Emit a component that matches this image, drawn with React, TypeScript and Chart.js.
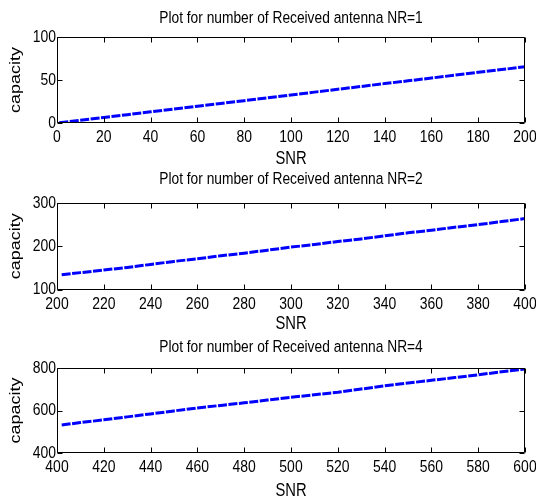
import React, { useEffect, useRef } from "react";
import { Chart, registerables } from "chart.js";

Chart.register(...registerables);

// ---- data ----
const snr1 = [1, 10, 20, 30, 40, 50, 60, 70, 80, 90, 100, 110, 120, 130, 140, 150, 160, 170, 180, 190, 200];
const cap1 = [0.3, 3.2, 6.5, 9.7, 13, 16.2, 19.5, 22.8, 26, 29.3, 32.6, 35.9, 39.2, 42.5, 45.8, 49, 52.3, 55.6, 58.9, 62.1, 65.4];

const snr2 = [202, 210, 220, 230, 240, 250, 260, 270, 280, 290, 300, 310, 320, 330, 340, 350, 360, 370, 380, 390, 400];
const cap2 = [134, 139, 145, 151, 158, 165, 171, 178, 184, 191, 198, 204, 211, 217, 224, 231, 237, 244, 250, 257, 264];

const snr3 = [402, 410, 420, 430, 440, 450, 460, 470, 480, 490, 500, 510, 520, 530, 540, 550, 560, 570, 580, 590, 600];
const cap3 = [532, 543, 556, 570, 584, 598, 612, 624, 636, 649, 662, 674, 686, 701, 716, 729, 742, 755, 768, 782, 795];

const titles = [
  "Plot for number of Received antenna NR=1",
  "Plot for number of Received antenna NR=2",
  "Plot for number of Received antenna NR=4",
];
const xRanges = [[0, 200], [200, 400], [400, 600]];
const xSteps = [20, 20, 20];
const yRanges = [[0, 100], [100, 300], [400, 800]];
const ySteps = [50, 100, 200];
const xLabel = "SNR";
const yLabel = "capacity";

const FONT = "'Liberation Sans', Arial, sans-serif";
const TICK_FS = 17;
const TITLE_FS = 16.8;
const LABEL_FS = 18;
const SQ = 0.82; // horizontal squeeze of the reference text

const boxPlugin = {
  id: "matlabBox",
  afterDatasetsDraw(chart: any) {
    const { ctx, chartArea: a, scales } = chart;
    ctx.save();
    ctx.strokeStyle = "#000";
    ctx.lineWidth = 1;
    const L = Math.round(a.left) + 0.5;
    const R = Math.round(a.right) - 0.5;
    const T = Math.round(a.top) + 0.5;
    const B = Math.round(a.bottom) - 0.5;
    const len = 5;
    ctx.beginPath();
    ctx.rect(L, T, R - L, B - T);
    scales.x.ticks.forEach((t: any) => {
      const px = Math.round(scales.x.getPixelForValue(t.value)) + 0.5;
      ctx.moveTo(px, B);
      ctx.lineTo(px, B - len);
      ctx.moveTo(px, T);
      ctx.lineTo(px, T + len);
    });
    scales.y.ticks.forEach((t: any) => {
      const py = Math.round(scales.y.getPixelForValue(t.value)) + 0.5;
      ctx.moveTo(L, py);
      ctx.lineTo(L + len, py);
      ctx.moveTo(R, py);
      ctx.lineTo(R - len, py);
    });
    ctx.stroke();
    ctx.restore();
  },
};

const textPlugin = {
  id: "matlabText",
  afterDraw(chart: any, _args: any, opts: any) {
    const { ctx, chartArea: a, scales } = chart;
    ctx.save();
    ctx.fillStyle = "#000";
    const put = (text: string, x: number, y: number, align: CanvasTextAlign, size: number) => {
      ctx.save();
      ctx.font = `${size}px ${FONT}`;
      ctx.translate(x, y);
      ctx.scale(SQ, 1);
      ctx.textAlign = align;
      ctx.textBaseline = "middle";
      ctx.fillText(text, 0, 0);
      ctx.restore();
    };
    const cx = (a.left + a.right) / 2;
    put(opts.title, cx, opts.titleY, "center", TITLE_FS);
    scales.x.ticks.forEach((t: any) =>
      put(String(t.label), scales.x.getPixelForValue(t.value), opts.tickY, "center", TICK_FS)
    );
    scales.y.ticks.forEach((t: any) =>
      put(String(t.label), a.left - 1, scales.y.getPixelForValue(t.value), "right", TICK_FS)
    );
    put(opts.xLabel, cx, opts.xLabelY, "center", LABEL_FS);
    ctx.save();
    ctx.font = `${LABEL_FS}px ${FONT}`;
    ctx.translate(opts.yLabelX, (a.top + a.bottom) / 2);
    ctx.scale(SQ, 1);
    ctx.rotate(-Math.PI / 2);
    ctx.textAlign = "center";
    ctx.textBaseline = "middle";
    ctx.fillText(opts.yLabel, 0, 0);
    ctx.restore();
    ctx.restore();
  },
};

type PanelProps = {
  idx: number;
  xs: number[];
  ys: number[];
  top: number;
  height: number;
  plotBottom: number;
  titleY: number;
  tickY: number;
  xLabelY: number;
};

function Panel({ idx, xs, ys, top, height, plotBottom, titleY, tickY, xLabelY }: PanelProps) {
  const ref = useRef<HTMLCanvasElement | null>(null);
  useEffect(() => {
    if (!ref.current) return;
    const chart = new Chart(ref.current, {
      type: "line",
      data: {
        datasets: [
          {
            data: xs.map((x, i) => ({ x, y: ys[i] })),
            borderColor: "#0000ff",
            borderWidth: 3,
            borderDash: [9, 1.5],
            pointRadius: 0,
            fill: false,
            tension: 0,
          },
        ],
      },
      options: {
        responsive: false,
        animation: false,
        devicePixelRatio: 1,
        layout: { padding: { left: 0, right: 11, top: 37, bottom: 0 } },
        plugins: {
          legend: { display: false },
          tooltip: { enabled: false },
          title: { display: false },
          matlabText: {
            title: titles[idx],
            titleY,
            tickY,
            xLabel,
            xLabelY,
            yLabel,
            yLabelX: 15.5,
          },
        } as any,
        scales: {
          x: {
            type: "linear",
            min: xRanges[idx][0],
            max: xRanges[idx][1],
            grid: { display: false, drawTicks: false },
            border: { display: false },
            ticks: { stepSize: xSteps[idx], display: false },
            title: { display: false },
            afterFit: (s: any) => {
              s.height = height - plotBottom;
            },
          },
          y: {
            type: "linear",
            min: yRanges[idx][0],
            max: yRanges[idx][1],
            grid: { display: false, drawTicks: false },
            border: { display: false },
            ticks: { stepSize: ySteps[idx], display: false },
            title: { display: false },
            afterFit: (s: any) => {
              s.width = 57;
            },
          },
        },
      },
      plugins: [boxPlugin, textPlugin],
    });
    return () => chart.destroy();
  }, []);
  return (
    <canvas
      ref={ref}
      width={536}
      height={height}
      style={{ position: "absolute", left: 0, top, width: 536, height, display: "block" }}
    />
  );
}

export default function App() {
  return (
    <div style={{ position: "absolute", left: 0, top: 0, width: 536, height: 496, background: "#fff" }}>
      <Panel idx={0} xs={snr1} ys={cap1} top={0} height={166} plotBottom={123} titleY={18.2} tickY={137.5} xLabelY={159.5} />
      <Panel idx={1} xs={snr2} ys={cap2} top={166} height={166} plotBottom={123.5} titleY={13.7} tickY={138.5} xLabelY={158.5} />
      <Panel idx={2} xs={snr3} ys={cap3} top={331} height={165} plotBottom={122} titleY={16.5} tickY={136.5} xLabelY={160} />
    </div>
  );
}
